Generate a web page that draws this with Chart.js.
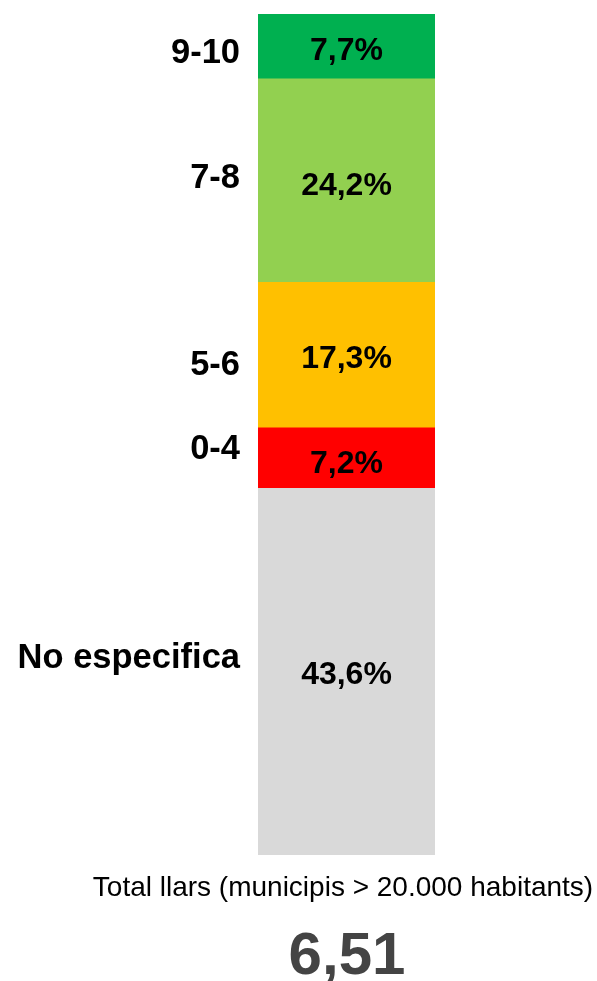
<!DOCTYPE html>
<html>
<head>
<meta charset="utf-8">
<script src="https://cdn.jsdelivr.net/npm/chart.js@4"></script>
<style>
  body { margin: 0; background: #fff; }
  #wrap { position: relative; width: 597px; height: 981px; }
</style>
</head>
<body>
<div id="wrap"><canvas id="chart" width="597" height="981"></canvas></div>
<script>
// data, bottom segment first
const categories = ['No especifica', '0-4', '5-6', '7-8', '9-10'];
const shares = [43.6, 7.2, 17.3, 24.2, 7.7];
const colors = ['#D9D9D9', '#FF0000', '#FFC000', '#92D050', '#00B050'];
const totalLabel = 'Total llars (municipis > 20.000 habitants)';
const totalScore = '6,51';

// small vertical nudges so labels sit where they do in the original
const catShift = [-13, -9, 10, -2, 7];
const valShift = [4, 6, 4, 6, 5];

const fmt = v => v.toFixed(1).replace('.', ',') + '%';

const labelPlugin = {
    id: 'labels',
    afterDatasetsDraw(chart) {
        const ctx = chart.ctx;
        ctx.save();
        ctx.fillStyle = '#000';
        ctx.textBaseline = 'middle';
        chart.data.datasets.forEach((ds, i) => {
            const bar = chart.getDatasetMeta(i).data[0];
            const mid = (bar.y + bar.base) / 2;
            ctx.font = 'bold 32px "Liberation Sans", Arial, sans-serif';
            ctx.textAlign = 'center';
            ctx.fillText(fmt(ds.data[0]), bar.x, mid + valShift[i]);
            ctx.font = 'bold 34.5px "Liberation Sans", Arial, sans-serif';
            ctx.textAlign = 'right';
            ctx.fillText(ds.label, bar.x - bar.width / 2 - 18, mid + catShift[i]);
        });
        // total below the bar
        ctx.textAlign = 'center';
        ctx.font = '28px "Liberation Sans", Arial, sans-serif';
        ctx.fillText(totalLabel, 343, 888);
        ctx.fillStyle = '#444444';
        ctx.font = 'bold 60px "Liberation Sans", Arial, sans-serif';
        ctx.fillText(totalScore, 347, 957);
        ctx.restore();
    }
};

new Chart(document.getElementById('chart'), {
    type: 'bar',
    data: {
        labels: [''],
        datasets: categories.map((c, i) => ({
            label: c,
            data: [shares[i]],
            backgroundColor: colors[i],
            borderWidth: 0,
            barPercentage: 1,
            categoryPercentage: 1
        }))
    },
    options: {
        responsive: false,
        animation: false,
        layout: { padding: { left: 258, right: 162, top: 14, bottom: 126 } },
        plugins: { legend: { display: false }, tooltip: { enabled: false } },
        scales: {
            x: { stacked: true, display: false },
            y: { stacked: true, display: false, min: 0, max: 100 }
        }
    },
    plugins: [labelPlugin]
});
</script>
</body>
</html>
